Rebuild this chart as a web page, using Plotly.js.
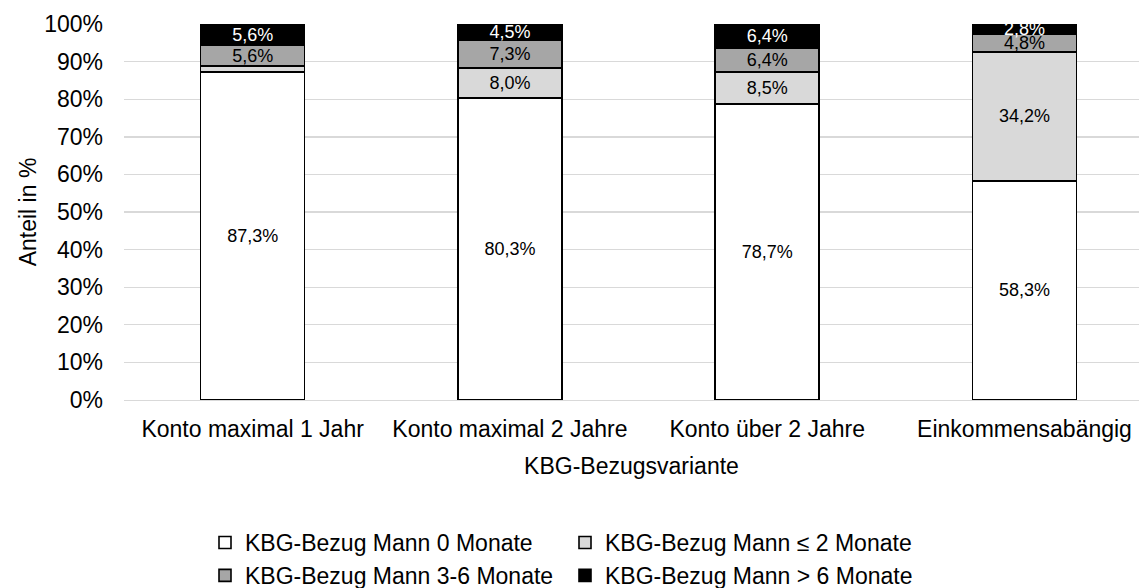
<!DOCTYPE html>
<html>
<head>
<meta charset="utf-8">
<script src="https://cdn.plot.ly/plotly-3.0.1.min.js"></script>
<style>html,body{margin:0;padding:0;background:#fff;}#chart{width:1139px;height:588px;}</style>
</head>
<body>
<div id="chart"></div>
<script>
// Categories (x axis)
const categories = ["Konto maximal 1 Jahr", "Konto maximal 2 Jahre", "Konto über 2 Jahre", "Einkommensabängig"];

// Series names
const seriesNames = ["KBG-Bezug Mann 0 Monate", "KBG-Bezug Mann ≤ 2 Monate", "KBG-Bezug Mann 3-6 Monate", "KBG-Bezug Mann > 6 Monate"];

// Series values (percent)
const months0   = [87.3, 80.3, 78.7, 58.3];
const monthsLe2 = [1.5, 8.0, 8.5, 34.2];
const months3to6 = [5.6, 7.3, 6.4, 4.8];
const monthsGt6 = [5.6, 4.5, 6.4, 2.8];

// Which values carry a data label
const showLabel0   = [true, true, true, true];
const showLabelLe2 = [false, true, true, true];
const showLabel36  = [true, true, true, true];
const showLabelGt6 = [true, true, true, true];

// Y tick values
const yTicks = [0, 10, 20, 30, 40, 50, 60, 70, 80, 90, 100];
const yTickText = yTicks.map(v => v + "%");

const fillColors = ["#ffffff", "#d9d9d9", "#a6a6a6", "#000000"];
const labelColors = ["#000000", "#000000", "#000000", "#ffffff"];

const FONT = "Liberation Sans, Arial, sans-serif";

function fmt(v) { return v.toFixed(1).replace(".", ",") + "%"; }

const seriesValues = [months0, monthsLe2, months3to6, monthsGt6];
const seriesShow = [showLabel0, showLabelLe2, showLabel36, showLabelGt6];

const traces = seriesValues.map((vals, s) => ({
  type: "bar",
  name: seriesNames[s],
  x: categories,
  y: vals,
  text: vals.map((v, i) => seriesShow[s][i] ? fmt(v) : ""),
  textposition: "inside",
  insidetextanchor: "middle",
  constraintext: "none",
  textangle: 0,
  textfont: { family: FONT, size: 18, color: labelColors[s] },
  marker: { color: fillColors[s], line: { color: "#000000", width: 1.6 } },
  hoverinfo: "skip"
}));

const layout = {
  width: 1139,
  height: 588,
  margin: { l: 124, r: 0, t: 24, b: 188, autoexpand: false },
  paper_bgcolor: "#ffffff",
  plot_bgcolor: "#ffffff",
  barmode: "stack",
  bargap: 0.596,
  separators: ",.",
  font: { family: FONT, size: 23, color: "#000000" },
  xaxis: {
    type: "category",
    range: [-0.5, 3.445],
    showgrid: false,
    showline: true,
    linecolor: "#d9d9d9",
    linewidth: 1.4,
    ticks: "",
    tickfont: { family: FONT, size: 23, color: "#000000" },
    ticklabelstandoff: 8,
    title: { text: "KBG-Bezugsvariante", font: { family: FONT, size: 23, color: "#000000" }, standoff: 17 },
    fixedrange: true
  },
  yaxis: {
    range: [0, 100],
    tickvals: yTicks,
    ticktext: yTickText,
    showgrid: true,
    gridcolor: "#d9d9d9",
    gridwidth: 1.4,
    zeroline: false,
    showline: false,
    ticks: "",
    ticklabelstandoff: 20,
    tickfont: { family: FONT, size: 23, color: "#000000" },
    title: { text: "Anteil in %", font: { family: FONT, size: 23, color: "#000000" }, standoff: 1 },
    fixedrange: true
  },
  showlegend: true,
  legend: {
    orientation: "h",
    traceorder: "normal",
    x: (205 - 124) / 1015,
    xanchor: "left",
    y: (400 - 521) / 376,
    yanchor: "top",
    entrywidth: 315,
    itemwidth: 30,
    tracegroupgap: 0,
    font: { family: FONT, size: 23, color: "#000000" },
    bgcolor: "rgba(0,0,0,0)"
  }
};

Plotly.newPlot("chart", traces, layout, { displayModeBar: false, staticPlot: true });
</script>
</body>
</html>
